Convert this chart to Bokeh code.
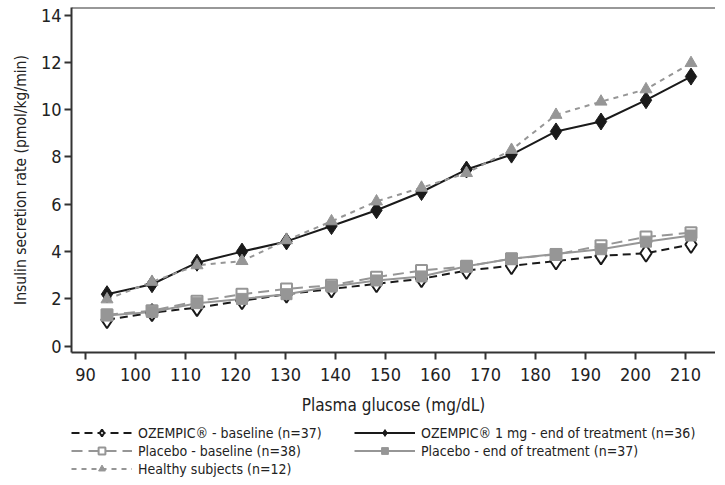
from bokeh.plotting import figure
from bokeh.layouts import column
from bokeh.models import Range1d, FixedTicker, Legend, LegendItem, Span
from bokeh.embed import file_html
from bokeh.resources import INLINE

glucose = [94.3, 103.3, 112.3, 121.3, 130.2, 139.2, 148.2, 157.2, 166.2, 175.2, 184.1, 193.1, 202.1, 211.1]
oz_baseline = [1.12, 1.42, 1.63, 1.92, 2.2, 2.42, 2.64, 2.85, 3.2, 3.4, 3.6, 3.82, 3.93, 4.3]
oz_end = [2.2, 2.62, 3.53, 4.0, 4.43, 5.08, 5.75, 6.52, 7.47, 8.1, 9.08, 9.5, 10.4, 11.4]
pl_baseline = [1.33, 1.5, 1.9, 2.2, 2.42, 2.58, 2.92, 3.2, 3.38, 3.7, 3.88, 4.25, 4.62, 4.8]
pl_end = [1.3, 1.45, 1.82, 2.0, 2.2, 2.52, 2.78, 2.95, 3.38, 3.7, 3.9, 4.1, 4.42, 4.68]
healthy = [1.98, 2.72, 3.42, 3.6, 4.48, 5.28, 6.12, 6.7, 7.32, 8.3, 9.78, 10.34, 10.86, 11.97]

x_ticks = [90, 100, 110, 120, 130, 140, 150, 160, 170, 180, 190, 200, 210]
y_ticks = [0, 2, 4, 6, 8, 10, 12, 14]

labels = [
    "OZEMPIC\u00ae - baseline (n=37)",
    "Placebo - baseline (n=38)",
    "Healthy subjects (n=12)",
    "OZEMPIC\u00ae 1 mg - end of treatment (n=36)",
    "Placebo - end of treatment (n=37)",
]

FONT = "DejaVu Sans Condensed"
BLACK = "#1a1a1a"
GRAY = "#969696"
AXIS = "#333333"

# series styles: (values, line color, line width, dash, marker, size, fill, marker line width, legend size)
styles = [
    (oz_baseline, BLACK, 2, "8 5", "diamond", 17, "white", 2, 14),
    (pl_baseline, GRAY, 2, "11 6", "square", 11, "white", 2, 9),
    (healthy, GRAY, 2, "5 5", "triangle", 12, GRAY, 1, 9),
    (oz_end, BLACK, 2, "solid", "diamond", 17, BLACK, 1, 14),
    (pl_end, GRAY, 2, "solid", "square", 11, GRAY, 1, 10),
]
draw_order = [0, 1, 4, 3, 2]

p = figure(width=715, height=424, output_backend="svg", toolbar_location=None,
           x_range=Range1d(87.2, 216.0), y_range=Range1d(-0.266, 14.32),
           min_border_left=71, min_border_right=0, min_border_top=7, min_border_bottom=72)
p.outline_line_color = None
p.xgrid.visible = False
p.ygrid.visible = False

for i in draw_order:
    vals, col, lw, dash, mk, sz, fill, mlw, lsz = styles[i]
    p.line(glucose, vals, line_color=col, line_width=lw, line_dash=dash)
for i in draw_order:
    vals, col, lw, dash, mk, sz, fill, mlw, lsz = styles[i]
    p.scatter(glucose, vals, marker=mk, size=sz, fill_color=fill, line_color=col, line_width=mlw)

p.add_layout(Span(location=14.32, dimension="width", line_color=AXIS, line_width=2))

for ax in (p.xaxis[0], p.yaxis[0]):
    ax.axis_line_color = AXIS
    ax.axis_line_width = 2
    ax.major_tick_line_color = AXIS
    ax.major_tick_line_width = 2
    ax.major_tick_out = 7
    ax.major_tick_in = 0
    ax.minor_tick_line_color = None
    ax.major_label_text_font = FONT
    ax.major_label_text_font_size = "18px"
    ax.major_label_text_color = "#222222"
    ax.axis_label_text_font = FONT
    ax.axis_label_text_font_style = "normal"
    ax.axis_label_text_color = "#222222"

p.xaxis.ticker = FixedTicker(ticks=x_ticks)
p.yaxis.ticker = FixedTicker(ticks=y_ticks)
p.xaxis.axis_label = "Plasma glucose (mg/dL)"
p.yaxis.axis_label = "Insulin secretion rate (pmol/kg/min)"
p.xaxis.axis_label_text_font_size = "17px"
p.yaxis.axis_label_text_font_size = "15.5px"
p.xaxis.major_label_standoff = 8
p.yaxis.major_label_standoff = 3
p.xaxis.axis_label_standoff = 11
p.yaxis.axis_label_standoff = 8

# legend strip below the chart; its renderers hold the series but lie outside its view
lg = figure(width=715, height=53, output_backend="svg", toolbar_location=None,
            x_range=Range1d(0, 1), y_range=Range1d(0, 1),
            min_border_left=71, min_border_right=0, min_border_top=0, min_border_bottom=0)
lg.outline_line_color = None
lg.xaxis.visible = False
lg.yaxis.visible = False
lg.xgrid.visible = False
lg.ygrid.visible = False

items = []
for i, lab in enumerate(labels):
    vals, col, lw, dash, mk, sz, fill, mlw, lsz = styles[i]
    rl = lg.line(glucose, vals, line_color=col, line_width=lw, line_dash=dash)
    rs = lg.scatter(glucose, vals, marker=mk, size=lsz, fill_color=fill, line_color=col, line_width=mlw)
    items.append(LegendItem(label=lab, renderers=[rl, rs]))

legend = Legend(items=items, location="bottom_left", nrows=3,
                glyph_width=61, glyph_height=17, label_height=17, label_width=215,
                label_standoff=6, spacing=1, padding=0, margin=0,
                label_text_font=FONT, label_text_font_size="14px",
                label_text_color="#222222", border_line_color=None,
                background_fill_alpha=0)
lg.add_layout(legend)

open("out.html", "w").write(file_html(column(p, lg), INLINE))
